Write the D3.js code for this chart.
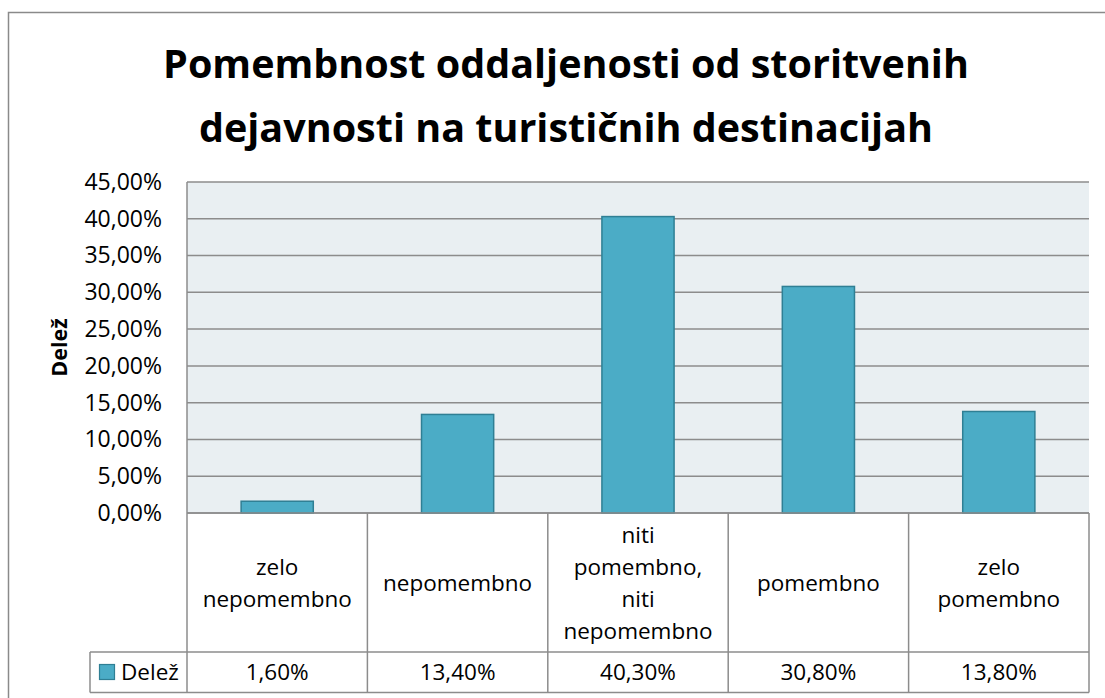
<!doctype html>
<html>
<head>
    <meta charset="utf-8">
    <script src="https://d3js.org/d3.v7.min.js"></script>
    <style>
        body { margin: 0; background: #fff; }
        text { font-family: "Open Sans", sans-serif; fill: #000; }
    </style>
    <title>Pomembnost oddaljenosti</title>
</head>
<body>
<svg width="1105" height="698"></svg>
<script>
// data
var categories = ["zelo nepomembno", "nepomembno", "niti pomembno, niti nepomembno", "pomembno", "zelo pomembno"];
var values = [1.6, 13.4, 40.3, 30.8, 13.8];
var yTicks = [0, 5, 10, 15, 20, 25, 30, 35, 40, 45];
var seriesName = "Delež";
var titleLines = ["Pomembnost oddaljenosti od storitvenih", "dejavnosti na turističnih destinacijah"];

var svg = d3.select("svg");

var plotLeft = 187, plotRight = 1089, plotTop = 182, plotBottom = 513,
    headerBottom = 652, rowBottom = 692.5, legendLeft = 90;

function pct(v) { return v.toFixed(2).replace(".", ",") + "%"; }

// outer chart border
svg.append("rect")
    .attr("x", 8.5).attr("y", 12.5)
    .attr("width", 1120).attr("height", 700)
    .attr("fill", "none").attr("stroke", "#8a8a8a").attr("stroke-width", 1.5);

// title
svg.append("g").selectAll("text")
    .data(titleLines)
    .enter().append("text")
    .attr("x", 566)
    .attr("y", function(d, i) { return 78 + i * 64; })
    .attr("text-anchor", "middle")
    .style("font-size", "39.5px")
    .style("font-weight", "bold")
    .text(function(d) { return d; });

var cell = d3.scaleBand().domain(categories).range([plotLeft, plotRight]);
var yScale = d3.scaleLinear().domain([0, 45]).range([plotBottom, plotTop]);

// plot background
svg.append("rect")
    .attr("x", plotLeft).attr("y", plotTop)
    .attr("width", plotRight - plotLeft).attr("height", plotBottom - plotTop)
    .attr("fill", "#e9eff2");

// gridlines
svg.append("g").selectAll("line")
    .data(yTicks)
    .enter().append("line")
    .attr("x1", plotLeft).attr("x2", plotRight)
    .attr("y1", function(d) { return yScale(d); })
    .attr("y2", function(d) { return yScale(d); })
    .attr("stroke", "#8c8c8c").attr("stroke-width", 1.5);

svg.append("line")
    .attr("x1", plotLeft).attr("x2", plotLeft)
    .attr("y1", plotTop).attr("y2", plotBottom)
    .attr("stroke", "#8c8c8c").attr("stroke-width", 1.5);

// y axis labels
var yAxis = svg.append("g")
    .attr("transform", "translate(" + (plotLeft - 25) + ",0)")
    .call(d3.axisLeft(yScale).tickValues(yTicks).tickSize(0).tickPadding(0).tickFormat(pct));
yAxis.select(".domain").remove();
yAxis.selectAll("text")
    .style("font-family", "'Open Sans', sans-serif")
    .style("font-size", "23px")
    .attr("fill", "#000");

svg.append("text")
    .attr("transform", "translate(67," + ((plotTop + plotBottom) / 2) + ") rotate(-90)")
    .attr("text-anchor", "middle")
    .style("font-size", "21.5px")
    .style("font-weight", "bold")
    .text(seriesName);

// bars
svg.append("g").selectAll("rect")
    .data(values)
    .enter().append("rect")
    .attr("x", function(d, i) { return cell(categories[i]) + cell.bandwidth() * 0.3; })
    .attr("y", function(d) { return yScale(d); })
    .attr("width", cell.bandwidth() * 0.4)
    .attr("height", function(d) { return plotBottom - yScale(d); })
    .attr("fill", "#4bacc6")
    .attr("stroke", "#2f7f94")
    .attr("stroke-width", 1.5);

// data table
var table = svg.append("g")
    .attr("fill", "none").attr("stroke", "#8c8c8c").attr("stroke-width", 1.5);
table.append("line").attr("x1", plotLeft).attr("x2", plotRight).attr("y1", plotBottom).attr("y2", plotBottom);
table.append("line").attr("x1", legendLeft).attr("x2", plotRight).attr("y1", headerBottom).attr("y2", headerBottom);
table.append("line").attr("x1", legendLeft).attr("x2", plotRight).attr("y1", rowBottom).attr("y2", rowBottom);
table.append("line").attr("x1", legendLeft).attr("x2", legendLeft).attr("y1", headerBottom).attr("y2", rowBottom);
table.selectAll(".vline")
    .data(categories.concat(["end"]))
    .enter().append("line")
    .attr("class", "vline")
    .attr("x1", function(d, i) { return plotLeft + i * cell.bandwidth(); })
    .attr("x2", function(d, i) { return plotLeft + i * cell.bandwidth(); })
    .attr("y1", plotBottom).attr("y2", rowBottom);

// category headers, wrapped at spaces
var lineH = 32;
svg.append("g").selectAll("text")
    .data(categories)
    .enter().append("text")
    .attr("text-anchor", "middle")
    .style("font-size", "22.5px")
    .each(function(d) {
        var words = d.split(" ");
        var cx = cell(d) + cell.bandwidth() / 2;
        var y0 = (plotBottom + headerBottom) / 2 - (words.length - 1) * lineH / 2 + 8;
        d3.select(this).selectAll("tspan")
            .data(words)
            .enter().append("tspan")
            .attr("x", cx)
            .attr("y", function(w, j) { return y0 + j * lineH; })
            .text(function(w) { return w; });
    });

// values row
svg.append("g").selectAll("text")
    .data(values)
    .enter().append("text")
    .attr("x", function(d, i) { return cell(categories[i]) + cell.bandwidth() / 2; })
    .attr("y", (headerBottom + rowBottom) / 2 + 8)
    .attr("text-anchor", "middle")
    .style("font-size", "22.5px")
    .text(function(d) { return pct(d); });

// legend key in the table
svg.append("rect")
    .attr("x", 99.5).attr("y", 664.5)
    .attr("width", 15).attr("height", 15)
    .attr("fill", "#4bacc6").attr("stroke", "#2f7f94").attr("stroke-width", 1.2);
svg.append("text")
    .attr("x", 121).attr("y", 680)
    .style("font-size", "22.5px")
    .text(seriesName);
</script>
</body>
</html>
